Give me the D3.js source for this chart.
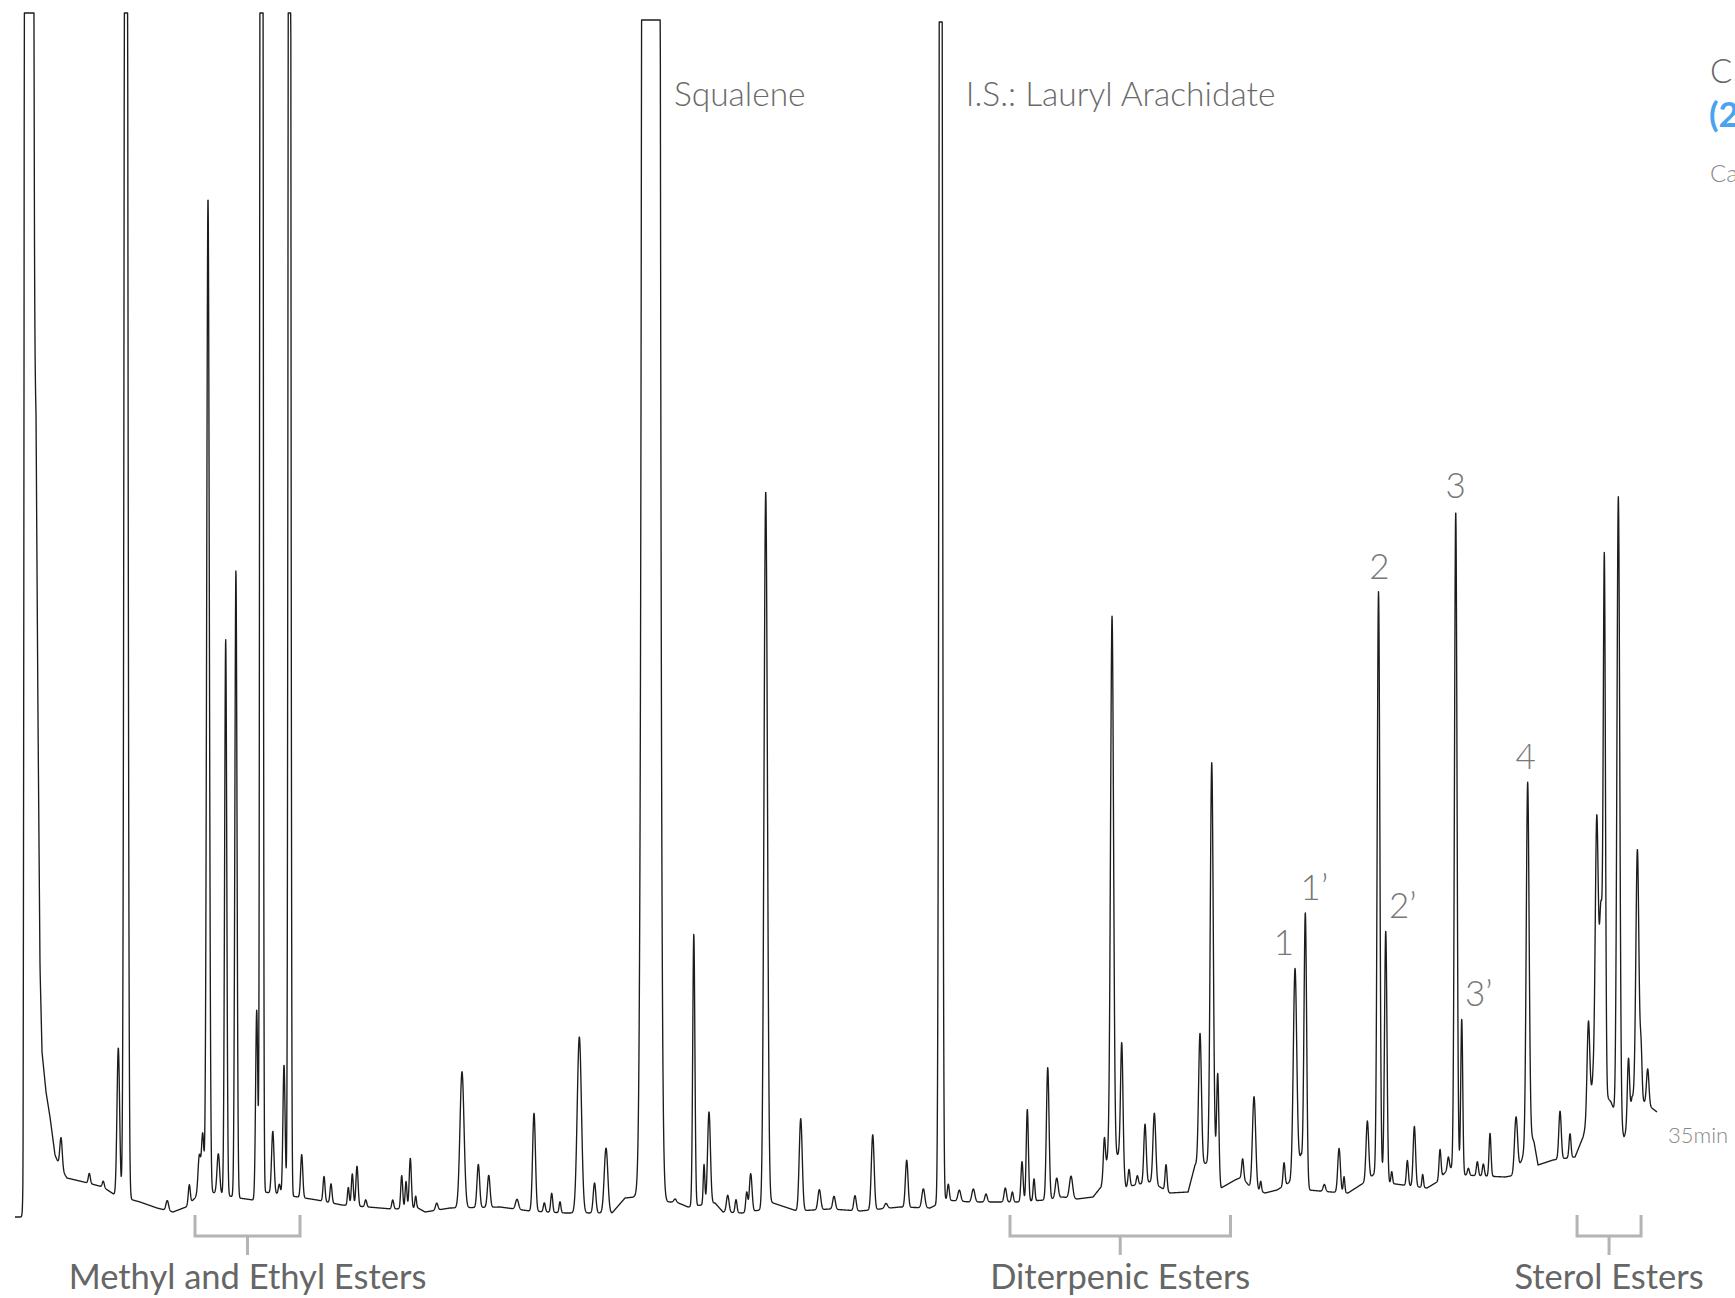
<!DOCTYPE html>
<html>
<head>
<meta charset="utf-8">
<script src="https://cdn.jsdelivr.net/npm/d3@7"></script>
<style>
  html, body { margin: 0; padding: 0; background: #fff; overflow: hidden; }
  svg { display: block; font-family: "Lato", "Open Sans", sans-serif; }
</style>
</head>
<body>
<svg id="chart"></svg>
<script>
const width = 1735;
const height = 1298;

// retention time (min), height, sigma (min)
const solventPeaks = [
    [0.298, 50000, 0.034], [0.981, 31, 0.026], [1.584, 10, 0.021], [1.882, 6, 0.021],
    [2.202, 148, 0.028], [2.366, 2460, 0.030], [3.246, 10, 0.028], [3.715, 19, 0.021]
];

const esterPeaks = [
    [3.929, 40, 0.028], [4.001, 60, 0.026], [4.114, 995, 0.028], [4.334, 40, 0.028],
    [4.491, 556, 0.023], [4.709, 627, 0.023], [5.152, 187, 0.023], [5.254, 5100, 0.021],
    [5.495, 62, 0.026], [5.634, 10, 0.021], [5.734, 130, 0.023], [5.851, 3000, 0.021],
    [6.111, 43, 0.023]
];

const midPeaks = [
    [6.587, 25, 0.021], [6.736, 19, 0.021], [7.105, 18, 0.019], [7.190, 32, 0.021],
    [7.290, 40, 0.023], [7.476, 7, 0.021], [8.051, 9, 0.021], [8.243, 33, 0.021],
    [8.335, 27, 0.019], [8.426, 50, 0.023], [8.541, 12, 0.017], [8.989, 7, 0.026],
    [9.528, 136, 0.043], [9.876, 43, 0.028], [10.098, 32, 0.028], [10.701, 10, 0.032],
    [11.063, 98, 0.030], [11.283, 9, 0.021], [11.440, 19, 0.021], [11.617, 11, 0.019],
    [12.029, 176, 0.045], [12.353, 30, 0.028], [12.598, 65, 0.038], [14.069, 3, 0.026],
    [14.469, 272, 0.023], [14.687, 40, 0.017], [14.793, 92, 0.030], [15.192, 17, 0.028],
    [15.369, 13, 0.021], [15.597, 20, 0.021], [15.682, 38, 0.028], [16.002, 714, 0.036],
    [16.748, 92, 0.032], [17.145, 20, 0.030], [17.458, 13, 0.028], [17.905, 15, 0.026],
    [18.283, 75, 0.030], [18.566, 5, 0.032], [19.007, 47, 0.028], [19.362, 19, 0.032]
];

// saturated peaks: time, height, sigma, detector ceiling
const squalene = [13.555, 34400, 0.077, 1197];
const internalStandard = [19.732, 2340, 0.028, 1195];

const diterpenicPeaks = [
    [19.894, 16, 0.021], [20.129, 11, 0.030], [20.427, 13, 0.032], [20.698, 8, 0.026],
    [21.109, 14, 0.026], [21.259, 10, 0.021], [21.465, 40, 0.023], [21.578, 92, 0.023],
    [21.721, 22, 0.019], [22.013, 132, 0.028], [22.205, 20, 0.030], [22.510, 22, 0.034],
    [23.220, 35, 0.021], [23.384, 540, 0.032], [23.591, 125, 0.026], [23.746, 17, 0.021],
    [23.923, 9, 0.021], [24.087, 59, 0.026], [24.286, 71, 0.030], [24.535, 26, 0.021],
    [25.259, 131, 0.030], [25.509, 400, 0.032], [25.637, 100, 0.023], [26.169, 19, 0.021],
    [26.411, 92, 0.034], [26.553, 10, 0.017], [27.050, 23, 0.021], [27.284, 203, 0.036],
    [27.504, 265, 0.028], [27.909, 7, 0.026], [28.223, 44, 0.028], [28.329, 16, 0.017],
    [28.826, 59, 0.028], [29.064, 581, 0.028], [29.218, 249, 0.026], [29.346, 12, 0.017],
    [29.679, 25, 0.021], [29.828, 60, 0.026], [30.006, 13, 0.017], [30.375, 29, 0.021],
    [30.553, 12, 0.021], [30.710, 656, 0.027], [30.838, 154, 0.021], [30.979, 7, 0.021],
    [31.171, 14, 0.021], [31.299, 12, 0.021], [31.441, 43, 0.021], [31.995, 58, 0.032],
    [32.243, 358, 0.030]
];

const sterolPeaks = [
    [32.933, 48, 0.026], [33.146, 24, 0.021], [33.537, 93, 0.028], [33.716, 264, 0.032],
    [33.807, 180, 0.034], [33.878, 520, 0.023], [34.176, 625, 0.030], [34.390, 66, 0.023],
    [34.582, 250, 0.032], [34.660, 50, 0.021], [34.802, 36, 0.026]
];

// baseline drift: time (min), level
const baseline = [
    [0, 0], [0.171, 0], [0.213, 900], [0.384, 900], [0.448, 800], [0.490, 500], [0.533, 250],
    [0.576, 165], [0.661, 125], [0.746, 100], [0.853, 62], [0.959, 50], [1.108, 39], [1.556, 34],
    [1.876, 30], [2.132, 22], [2.665, 15], [3.027, 9], [3.368, 5], [3.645, 10], [3.858, 20],
    [4.157, 25], [4.775, 19], [5.073, 17], [5.308, 25], [6.032, 20], [6.437, 17], [6.970, 12],
    [7.525, 10], [8.036, 8], [8.590, 9], [8.740, 5], [9.272, 9], [10.338, 10], [10.978, 6],
    [11.724, 4], [12.726, 4], [13.003, 19], [13.216, 20], [13.813, 15], [14.090, 15], [14.346, 10],
    [14.921, 14], [15.092, 5], [15.497, 4], [15.880, 7], [16.094, 15], [16.669, 6], [17.373, 8],
    [18.012, 6], [18.865, 10], [19.504, 9], [19.845, 17], [20.357, 15], [20.783, 15], [21.359, 15],
    [21.955, 17], [22.339, 20], [22.638, 18], [22.979, 20], [23.149, 30], [23.298, 60], [23.533, 62],
    [23.682, 30], [24.194, 35], [24.407, 30], [24.620, 24], [25.004, 25], [25.153, 52], [25.579, 55],
    [25.707, 29], [26.006, 37], [26.155, 40], [26.325, 30], [26.645, 24], [26.901, 27], [27.178, 35],
    [27.327, 50], [27.412, 62], [27.476, 45], [27.562, 27], [28.052, 25], [28.414, 24], [28.777, 35],
    [28.947, 42], [29.096, 45], [29.267, 34], [29.587, 32], [30.098, 29], [30.311, 35], [30.546, 48],
    [30.759, 50], [30.866, 42], [31.761, 40], [31.995, 42], [32.123, 58], [32.294, 85], [32.379, 75],
    [32.464, 52], [32.784, 57], [33.253, 60], [33.424, 80], [33.530, 100], [33.637, 138], [34.020, 115],
    [34.297, 80], [34.383, 90], [34.468, 120], [34.724, 115], [35.0, 105]
];

const peakLabels = [
    ["1", 27.284], ["1’", 27.504], ["2", 29.064], ["2’", 29.218],
    ["3", 30.710], ["3’", 30.838], ["4", 32.243]
];

const groups = [
    ["Methyl and Ethyl Esters", 3.837, 6.075],
    ["Diterpenic Esters", 21.209, 25.908],
    ["Sterol Esters", 33.296, 34.660]
];

const CEILING = 1204;

const svg = d3.select("#chart")
    .attr("width", width)
    .attr("height", height);

const x = d3.scaleLinear().domain([0, 35]).range([15, 1657]);
const y = d3.scaleLinear().domain([0, 1200]).range([1217, 17]);

const drift = d3.scaleLinear()
    .domain(baseline.map(d => d[0]))
    .range(baseline.map(d => d[1]))
    .clamp(true);

const peaks = [].concat(solventPeaks, esterPeaks, midPeaks, [squalene, internalStandard],
    diterpenicPeaks, sterolPeaks);

function signal(t) {
    let v = drift(t);
    let cap = CEILING;
    for (const [c, h, s, top] of peaks) {
        const z = (t - c) / s;
        if (z > -9 && z < 9) {
            v += h * Math.exp(-0.5 * z * z);
            if (top && Math.abs(z) < 6) cap = Math.min(cap, top);
        }
    }
    return Math.min(v, cap);
}

const trace = d3.range(0, 35.0001, 0.004).map(t => ({ t, v: signal(t) }));

svg.append("path")
    .datum(trace)
    .attr("fill", "none")
    .attr("stroke", "#1c1c1c")
    .attr("stroke-width", 1.35)
    .attr("stroke-linejoin", "round")
    .attr("d", d3.line().x(d => x(d.t)).y(d => y(d.v)));

// compound names
svg.append("text")
    .attr("x", x(squalene[0]) + 23)
    .attr("y", 106)
    .attr("font-size", 33.5)
    .attr("font-weight", 300)
    .attr("fill", "#6a6a6a")
    .text("Squalene");

svg.append("text")
    .attr("x", x(internalStandard[0]) + 25)
    .attr("y", 106)
    .attr("font-size", 33.5)
    .attr("font-weight", 300)
    .attr("fill", "#6a6a6a")
    .text("I.S.: Lauryl Arachidate");

// numbered peaks
const nudge = { "1": -11, "1’": 9, "2": 1, "2’": 17, "3": 0, "3’": 17, "4": -2 };
svg.selectAll(".peak-label")
    .data(peakLabels)
    .enter()
    .append("text")
    .attr("class", "peak-label")
    .attr("x", d => x(d[1]) + nudge[d[0]])
    .attr("y", d => y(signal(d[1])) - 13)
    .attr("text-anchor", "middle")
    .attr("font-size", 35)
    .attr("font-weight", 300)
    .attr("fill", "#777")
    .text(d => d[0]);

// group brackets
const bracket = svg.selectAll(".group")
    .data(groups)
    .enter()
    .append("g")
    .attr("class", "group");

bracket.append("path")
    .attr("fill", "none")
    .attr("stroke", "#b4b4b4")
    .attr("stroke-width", 3)
    .attr("d", d => {
        const a = x(d[1]), b = x(d[2]), m = (a + b) / 2;
        return `M${a},1215V1236H${b}V1215M${m},1236V1255`;
    });

bracket.append("text")
    .attr("x", d => (x(d[1]) + x(d[2])) / 2)
    .attr("y", 1289)
    .attr("text-anchor", "middle")
    .attr("font-size", 34.5)
    .attr("fill", "#666")
    .text(d => d[0]);

svg.append("text")
    .attr("x", x(35) + 11)
    .attr("y", 1143)
    .attr("font-size", 22)
    .attr("font-weight", 300)
    .attr("fill", "#888")
    .text("35min");

// title block, cut by the right edge
svg.append("text")
    .attr("x", 1710).attr("y", 83)
    .attr("font-size", 33).attr("font-weight", 300).attr("fill", "#666")
    .text("C");
svg.append("text")
    .attr("x", 1709).attr("y", 127)
    .attr("font-size", 35).attr("font-weight", 700).attr("fill", "#4aa3f0")
    .text("(2");
svg.append("text")
    .attr("x", 1710).attr("y", 182)
    .attr("font-size", 24).attr("font-weight", 300).attr("fill", "#888")
    .text("Ca");
</script>
</body>
</html>
